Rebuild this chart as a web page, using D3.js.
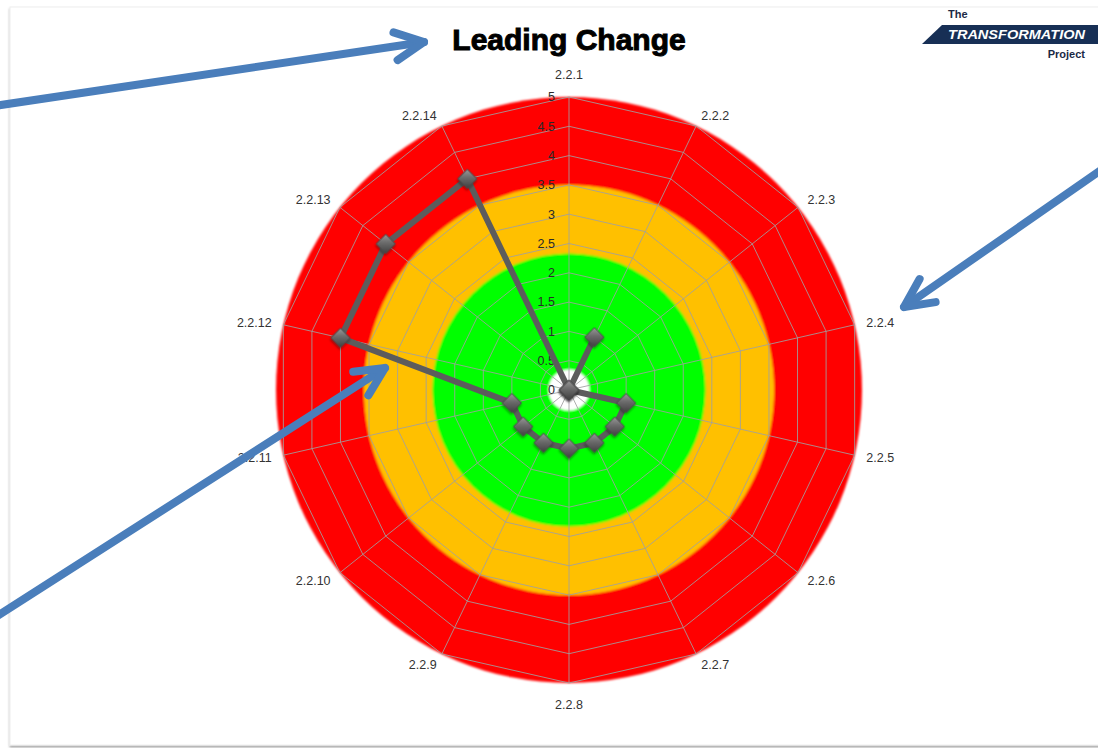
<!DOCTYPE html>
<html>
<head>
<meta charset="utf-8">
<script src="https://cdn.jsdelivr.net/npm/d3@7"></script>
<style>
  html, body { margin: 0; padding: 0; background: #ffffff; }
  svg { display: block; }
</style>
</head>
<body>
<script>
// Radar axes (competency items) and their self-assessment scores
const axes = ["2.2.1", "2.2.2", "2.2.3", "2.2.4", "2.2.5", "2.2.6", "2.2.7",
              "2.2.8", "2.2.9", "2.2.10", "2.2.11", "2.2.12", "2.2.13", "2.2.14"];
const scores = [0, 1, 0, 0, 1, 1, 1, 1, 1, 1, 1, 4, 4, 4];

// Radial tick values
const tickValues = [0, 0.5, 1, 1.5, 2, 2.5, 3, 3.5, 4, 4.5, 5];

// Rating zones, drawn from the outside in
const zoneLimits = [5, 3.5, 2.33, 0.35];
const zoneColors = ["#ff0000", "#ffc000", "#00ff00", "#ffffff"];

// Call-out arrows laid over the slide
const callouts = [
  { from: [-6, 106], to: [424, 42] },
  { from: [1104, 168], to: [904, 307] },
  { from: [-6, 618], to: [385, 368] }
];

const W = 1098, H = 748;
const cx = 569, cy = 390, R = 293;

const svg = d3.select("body").append("svg")
  .attr("width", W).attr("height", H);

const defs = svg.append("defs");

const shadow = defs.append("filter").attr("id", "slideShadow")
  .attr("x", "-5%").attr("y", "-5%").attr("width", "110%").attr("height", "110%");
shadow.append("feDropShadow").attr("dx", 0).attr("dy", 2).attr("stdDeviation", 1)
  .attr("flood-color", "#000").attr("flood-opacity", 0.35);

const soft = defs.append("filter").attr("id", "soft");
soft.append("feGaussianBlur").attr("stdDeviation", 0.8);

const mShadow = defs.append("filter").attr("id", "markerShadow")
  .attr("x", "-50%").attr("y", "-50%").attr("width", "200%").attr("height", "200%");
mShadow.append("feDropShadow").attr("dx", 1).attr("dy", 1.5).attr("stdDeviation", 1.2)
  .attr("flood-color", "#000").attr("flood-opacity", 0.45);

const grad = defs.append("linearGradient").attr("id", "markerFill")
  .attr("x1", "0%").attr("y1", "0%").attr("x2", "100%").attr("y2", "100%");
grad.append("stop").attr("offset", "0%").attr("stop-color", "#9a9a9a");
grad.append("stop").attr("offset", "45%").attr("stop-color", "#6a6a6a");
grad.append("stop").attr("offset", "100%").attr("stop-color", "#404040");

// Slide panel
svg.append("rect")
  .attr("x", 10).attr("y", 7).attr("width", W - 8).attr("height", 738)
  .attr("fill", "#ffffff").attr("stroke", "#eeeeee").attr("stroke-width", 1)
  .attr("filter", "url(#slideShadow)");

// Title
svg.append("text")
  .attr("x", cx).attr("y", 50)
  .attr("text-anchor", "middle")
  .attr("font-family", "Liberation Sans, Arial, sans-serif")
  .attr("font-weight", "bold")
  .attr("font-size", 30)
  .attr("fill", "#000")
  .attr("stroke", "#000").attr("stroke-width", 1)
  .text("Leading Change");

// Logo block
const logo = svg.append("g").attr("font-family", "Liberation Sans, Arial, sans-serif")
  .attr("font-weight", "bold");
logo.append("text").attr("x", 948).attr("y", 18).attr("font-size", 11)
  .attr("fill", "#1b2a45").text("The");
logo.append("path")
  .attr("d", "M942,25 L1098,25 L1098,44 L922,44 Z")
  .attr("fill", "#172f55");
logo.append("text").attr("x", 948).attr("y", 39).attr("font-size", 13)
  .attr("font-style", "italic").attr("fill", "#ffffff")
  .attr("textLength", 137).attr("lengthAdjust", "spacingAndGlyphs")
  .text("TRANSFORMATION");
logo.append("text").attr("x", 1085).attr("y", 58).attr("font-size", 11)
  .attr("text-anchor", "end").attr("fill", "#1b2a45").text("Project");

// Radar chart
const n = axes.length;
const angle = d3.scaleLinear().domain([0, n]).range([0, 2 * Math.PI]);
const r = d3.scaleLinear().domain([0, 5]).range([0, R]);

const chart = svg.append("g").attr("transform", `translate(${cx},${cy})`);

// Coloured rating zones
chart.append("g").attr("filter", "url(#soft)")
  .selectAll("circle").data(zoneLimits).join("circle")
  .attr("r", d => r(d))
  .attr("fill", (d, i) => zoneColors[i]);

// Polygon gridlines
const ring = d3.lineRadial()
  .angle((d, i) => angle(i))
  .radius(d => r(d))
  .curve(d3.curveLinearClosed);

chart.append("g")
  .selectAll("path").data(tickValues.filter(t => t > 0)).join("path")
  .attr("d", t => ring(axes.map(() => t)))
  .attr("fill", "none")
  .attr("stroke", "#a0a0a0")
  .attr("stroke-opacity", 0.85)
  .attr("stroke-width", 1);

// Spokes
chart.append("g")
  .selectAll("line").data(axes).join("line")
  .attr("x1", 0).attr("y1", 0)
  .attr("x2", (d, i) => r(5) * Math.sin(angle(i)))
  .attr("y2", (d, i) => -r(5) * Math.cos(angle(i)))
  .attr("stroke", "#a0a0a0")
  .attr("stroke-opacity", 0.85)
  .attr("stroke-width", 1);

// Radial tick labels along the first spoke
chart.append("g")
  .attr("font-family", "Liberation Sans, Arial, sans-serif")
  .attr("font-size", 12.5)
  .attr("fill", "#2a2a2a")
  .selectAll("text").data(tickValues).join("text")
  .attr("x", -14)
  .attr("y", d => -r(d))
  .attr("dy", "0.35em")
  .attr("text-anchor", "end")
  .text(d => d);

// Axis labels
const labelR = r(5) + 12;
chart.append("g")
  .attr("font-family", "Liberation Sans, Arial, sans-serif")
  .attr("font-size", 12.5)
  .attr("fill", "#333")
  .selectAll("text").data(axes).join("text")
  .each(function (d, i) {
    const a = angle(i), s = Math.sin(a), c = Math.cos(a);
    const el = d3.select(this);
    let anchor = "middle", yOff = 0;
    if (s > 0.1) anchor = "start";
    else if (s < -0.1) anchor = "end";
    else yOff = -c * 10;
    el.attr("x", labelR * s)
      .attr("y", -labelR * c + yOff)
      .attr("dy", "0.35em")
      .attr("text-anchor", anchor)
      .text(d);
  });

// Score line
const scoreLine = d3.lineRadial()
  .angle((d, i) => angle(i))
  .radius(d => r(d))
  .curve(d3.curveLinearClosed);

chart.append("path")
  .datum(scores)
  .attr("d", scoreLine)
  .attr("fill", "none")
  .attr("stroke", "#5c5c5c")
  .attr("stroke-width", 6)
  .attr("stroke-linejoin", "round");

// Diamond markers
chart.append("g")
  .selectAll("path").data(scores).join("path")
  .attr("d", d3.symbol(d3.symbolSquare, 185))
  .attr("transform", (d, i) =>
    `translate(${r(d) * Math.sin(angle(i))},${-r(d) * Math.cos(angle(i))}) rotate(45)`)
  .attr("fill", "url(#markerFill)")
  .attr("stroke", "#4a4a4a")
  .attr("stroke-width", 0.8)
  .attr("filter", "url(#markerShadow)");

// Call-out arrows
const arrowColor = "#4a7ebb";
const arrows = svg.append("g")
  .attr("stroke", arrowColor)
  .attr("stroke-width", 8)
  .attr("stroke-linecap", "round")
  .attr("stroke-linejoin", "round")
  .attr("fill", "none");

callouts.forEach(c => {
  const [x0, y0] = c.from, [x1, y1] = c.to;
  arrows.append("line")
    .attr("x1", x0).attr("y1", y0).attr("x2", x1).attr("y2", y1);
  const back = Math.atan2(y0 - y1, x0 - x1);
  const spread = 26 * Math.PI / 180, len = 32;
  const head = d3.path();
  head.moveTo(x1 + len * Math.cos(back + spread), y1 + len * Math.sin(back + spread));
  head.lineTo(x1, y1);
  head.lineTo(x1 + len * Math.cos(back - spread), y1 + len * Math.sin(back - spread));
  arrows.append("path").attr("d", head.toString());
});
</script>
</body>
</html>
